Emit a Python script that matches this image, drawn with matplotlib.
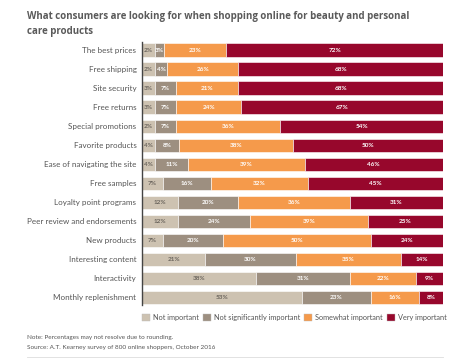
import numpy as np
import matplotlib
matplotlib.use("Agg")
import matplotlib.pyplot as plt
from matplotlib.patches import Rectangle

plt.rcParams["font.family"] = ["Lato", "DejaVu Sans"]

# data
categories = [
    "The best prices", "Free shipping", "Site security", "Free returns",
    "Special promotions", "Favorite products", "Ease of navigating the site",
    "Free samples", "Loyalty point programs", "Peer review and endorsements",
    "New products", "Interesting content", "Interactivity",
    "Monthly replenishment",
]
not_important = [2, 2, 3, 3, 2, 4, 4, 7, 12, 12, 7, 21, 38, 53]
not_significantly = [3, 4, 7, 7, 7, 8, 11, 16, 20, 24, 20, 30, 31, 23]
somewhat = [23, 26, 21, 24, 36, 38, 39, 32, 36, 39, 50, 35, 22, 16]
very = [72, 68, 68, 67, 54, 50, 46, 45, 31, 25, 24, 14, 9, 8]

series_names = ["Not important", "Not significantly important",
                "Somewhat important", "Very important"]
colors = ["#cdc2b1", "#9d8f80", "#f59a4b", "#97072c"]
label_colors = ["#6b655d", "white", "white", "white"]

vals = np.array([not_important, not_significantly, somewhat, very], dtype=float)

# the original widens the tiny first segments so their labels fit;
# the orange segment takes up what is left so every bar is full width
widths = vals.copy()
widths[0] = np.maximum(vals[0], 4.3)
widths[2] = 100 - widths[0] - widths[1] - widths[3]

fig = plt.figure(figsize=(4.65, 3.63), dpi=100)
ax = fig.add_axes([0.3054, 0.1543, 0.6473, 0.734])

y = np.arange(len(categories))
left = np.zeros(len(categories))
for i in range(4):
    ax.barh(y, widths[i], left=left, height=0.7, color=colors[i],
            edgecolor="white", linewidth=0.4)
    for j in range(len(categories)):
        ax.text(left[j] + widths[i][j] / 2, y[j], f"{int(vals[i][j])}%",
                ha="center", va="center", color=label_colors[i], fontsize=4.6,
                fontweight="bold")
    left += widths[i]

ax.set_xlim(0, 100)
ax.set_ylim(len(categories) - 0.5, -0.5)
ax.set_yticks(y)
ax.set_yticklabels(categories, fontsize=5.8, color="#555555")
ax.tick_params(axis="y", length=0, pad=4)
ax.set_xticks([])
for s in ["top", "right", "bottom"]:
    ax.spines[s].set_visible(False)
ax.spines["left"].set_color("#444444")
ax.spines["left"].set_linewidth(1.0)
ax.spines["left"].set_bounds(-0.4, len(categories) - 0.6)

fig.text(27 / 465, 1 - 17 / 363,
         "What consumers are looking for when shopping online for beauty and personal",
         fontsize=7.05, fontweight="bold", color="#5a5a5a", va="center",
         family=["Open Sans", "DejaVu Sans"])
fig.text(27 / 465, 1 - 31.5 / 363, "care products",
         fontsize=7.05, fontweight="bold", color="#5a5a5a", va="center",
         family=["Open Sans", "DejaVu Sans"])

# legend
leg_x = [142, 203, 304, 387]
for i in range(4):
    x0 = leg_x[i] / 465
    fig.patches.append(Rectangle((x0, 1 - 321 / 363), 8 / 465, 7.5 / 363,
                                 transform=fig.transFigure, facecolor=colors[i],
                                 edgecolor="#bbbbbb", linewidth=0.3))
    fig.text(x0 + 11 / 465, 1 - 317.5 / 363, series_names[i], fontsize=5.3,
             color="#555555", va="center")

fig.text(27 / 465, 1 - 337.5 / 363,
         "Note: Percentages may not resolve due to rounding.",
         fontsize=4.6, color="#555555", va="center")
fig.text(27 / 465, 1 - 348 / 363,
         "Source: A.T. Kearney survey of 800 online shoppers, October 2016",
         fontsize=4.6, color="#555555", va="center")
fig.add_artist(plt.Line2D([27 / 465, 443 / 465], [1 - 357 / 363, 1 - 357 / 363],
                          transform=fig.transFigure, color="#dddddd", linewidth=0.6))

fig.savefig("out.png", dpi=100, facecolor="white")
